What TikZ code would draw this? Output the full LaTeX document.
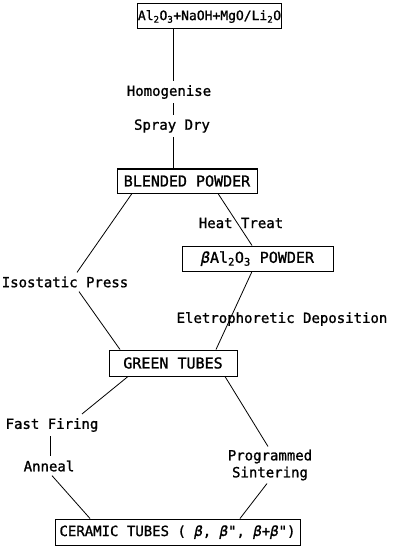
\documentclass[tikz,border=0pt]{standalone}
\usepackage{fontspec}
\newfontfamily\lab[FakeBold=1.2]{DejaVu Sans Mono}
\newcommand{\bt}{{\itshape β}}
\begin{document}
\begin{tikzpicture}[x=1pt,y=-1pt,
  box/.style={draw, line width=1pt, inner sep=0pt, font=\lab\fontsize{15}{18}\selectfont},
  lbl/.style={inner sep=4pt, font=\lab\fontsize{14}{17}\selectfont},
  conn/.style={line width=0.8pt}]
\useasboundingbox (0,0) rectangle (392,548);
% boxes
\node[box, minimum width=137pt, minimum height=25pt, font=\lab\fontsize{13}{16}\selectfont] (top) at (209.5,16.5) {Al\textsubscript{2}O\textsubscript{3}+NaOH+MgO/Li\textsubscript{2}O};
\node[box, minimum width=140pt, minimum height=24pt] (blended) at (187,181) {BLENDED POWDER};
\node[box, minimum width=151pt, minimum height=25pt] (beta) at (257.5,258.5) {\bt Al\textsubscript{2}O\textsubscript{3} POWDER};
\node[box, minimum width=128pt, minimum height=26pt] (green) at (173,363) {GREEN TUBES};
\node[box, minimum width=245pt, minimum height=26pt, font=\lab\fontsize{14}{17}\selectfont] (ceramic) at (177.5,532) {CERAMIC TUBES ( \bt, \bt", \bt+\bt")};
% labels
\node[lbl] (homog) at (169,92) {Homogenise};
\node[lbl] (spray) at (172,126) {Spray Dry};
\node[lbl] (heat) at (241,223) {Heat Treat};
\node[lbl] (iso) at (65,282) {Isostatic Press};
\node[lbl] (elec) at (282,319) {Eletrophoretic Deposition};
\node[lbl] (fast) at (52,425) {Fast Firing};
\node[lbl] (anneal) at (49,466) {Anneal};
\node[lbl, align=center, inner sep=3pt] (prog) at (270,465) {Programmed\\Sintering};
% connectors
\coordinate (vx) at (173,0);
\draw[conn] (top.south -| vx) -- (homog.north -| vx);
\draw[conn] (homog.south -| vx) -- (spray.north -| vx);
\draw[conn] (spray.south -| vx) -- (blended.north -| vx);
\draw[conn] (blended.south -| 132,0) -- (iso.north -| 77,0);
\draw[conn] (iso.south -| 79,0) -- (green.north -| 120,0);
\draw[conn] (blended.south -| 218,0) -- (beta.north -| 252,0);
\draw[conn] (beta.south -| 252,0) -- (green.north -| 216,0);
\draw[conn] (green.south -| 128,0) -- (fast.north -| 82,0);
\draw[conn] (fast.south -| 50,0) -- (anneal.north -| 50,0);
\draw[conn] (anneal.south -| 52,0) -- (ceramic.north -| 90,0);
\draw[conn] (green.south -| 225,0) -- (prog.north -| 268,0);
\draw[conn] (prog.south -| 267,0) -- (ceramic.north -| 240,0);
\end{tikzpicture}
\end{document}
